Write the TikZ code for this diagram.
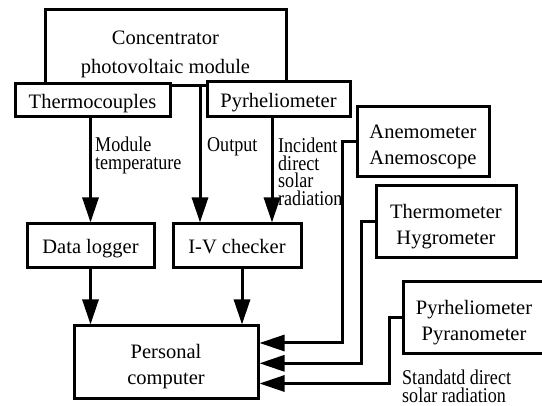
\documentclass[tikz,border=0pt]{standalone}
\usepackage{fontspec}
\setmainfont{Liberation Serif}
\newfontfamily\labelserif[FakeStretch=0.86]{Liberation Serif}
\usetikzlibrary{arrows.meta}
% centred and left-aligned stacks of lines, baseline on the first line
\newcommand\cstack[1]{\vtop{\halign{\hfil##\hfil\cr#1\crcr}}}
\newcommand\lstack[1]{\vtop{\halign{##\hfil\cr#1\crcr}}}

\begin{document}
\begin{tikzpicture}[x=1pt, y=-1pt,
  box/.style={draw, fill=white, line width=3pt, inner sep=0pt,
    font=\fontsize{20.5}{26}\selectfont},
  oneline/.style={box, text height=18pt, text depth=2pt},
  twoline/.style={box, text height=10pt, text depth=17pt},
  wire/.style={line width=3pt},
  feed/.style={wire, -{Triangle[length=25pt, width=16pt]}},
  note/.style={inner sep=0pt, anchor=base west,
    font=\labelserif\fontsize{21}{17.5}\selectfont}
]
\clip (0,0) rectangle (542,406);

% module and the sensors attached to it
\node[twoline, minimum width=241pt, minimum height=76pt,
      font=\fontsize{20.5}{29}\selectfont] (conc) at (165.5,48)
      {\cstack{Concentrator\cr photovoltaic module}};
\node[oneline, minimum width=155pt, minimum height=33pt] (tc) at (92.5,100.5) {Thermocouples};
\node[oneline, minimum width=143pt, minimum height=35pt] (pyr) at (278.5,99.5) {Pyrheliometer};

% weather instruments
\node[twoline, minimum width=132pt, minimum height=70pt] (anemo) at (423,142)
      {\cstack{Anemometer\cr Anemoscope}};
\node[twoline, minimum width=140pt, minimum height=72pt] (hygro) at (446,222)
      {\cstack{Thermometer\cr Hygrometer}};
\node[twoline, minimum width=142pt, minimum height=72pt] (pyra) at (474,318)
      {\cstack{Pyrheliometer\cr Pyranometer}};

% acquisition
\node[oneline, minimum width=127pt, minimum height=44pt] (dl) at (90.5,246) {Data logger};
\node[oneline, minimum width=128pt, minimum height=44pt] (iv) at (237,246) {I-V checker};
\node[twoline, minimum width=184pt, minimum height=73pt] (pc) at (166,362.5)
      {\cstack{Personal\cr computer}};

% signal paths
\draw[feed] (dl.north |- tc.south) -- (dl.north);
\draw[feed] ([xshift=-37pt]iv.north |- conc.south) -- ([xshift=-37pt]iv.north);
\draw[feed] ([xshift=35pt]iv.north |- pyr.south) -- ([xshift=35pt]iv.north);
\draw[feed] (dl.south) -- (dl.south |- pc.north);
\draw[feed] ([xshift=5pt]iv.south) -- ([xshift=5pt]iv.south |- pc.north);
\draw[feed] (anemo.west) -- ++(-13,0) |- ([yshift=19.5pt]pc.east);
\draw[feed] (hygro.west) -- ++(-13.5,0) |- ([yshift=-0.8pt]pc.east);
\draw[feed] (pyra.west) -- ++(-12,0) |- ([yshift=-21pt]pc.east);

% signal labels
\node[note] (lmod) at (95,152) {\lstack{Module\cr temperature}};
\node[note] (lout) at (207,152) {Output};
\node[note] (linc) at (278,153) {\lstack{Incident\cr direct\cr solar\cr radiation}};
\node[note] (lstd) at (402,385) {\lstack{Standatd direct\cr solar radiation}};
\end{tikzpicture}
\end{document}
